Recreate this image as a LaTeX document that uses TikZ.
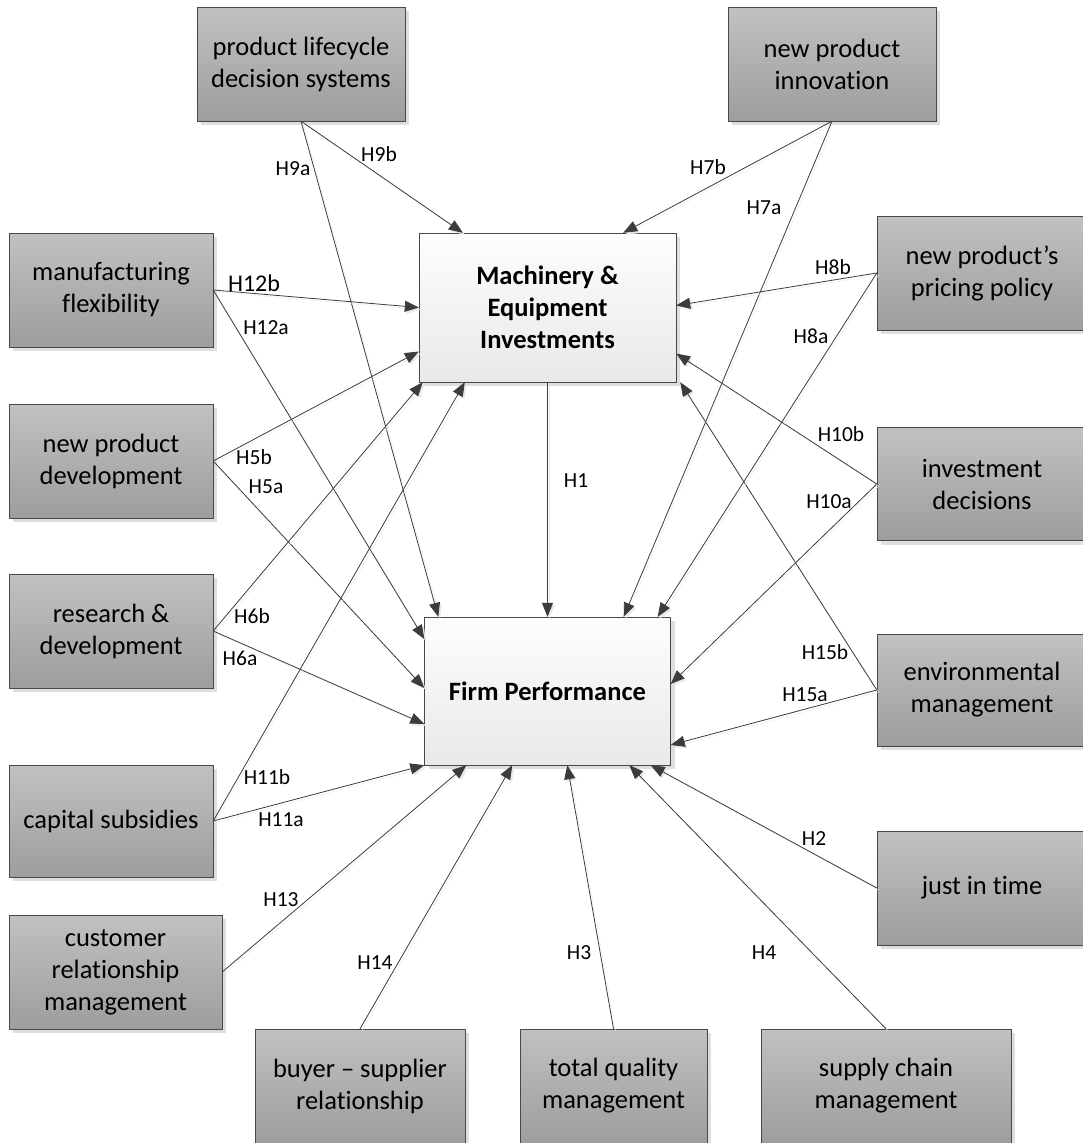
\documentclass[tikz,border=0pt]{standalone}
\usepackage{fontspec}
\setmainfont{Carlito}[Ligatures={TeX,NoCommon}]
\usetikzlibrary{calc}
\usetikzlibrary{arrows.meta}
\usetikzlibrary{shadows}

\definecolor{boxtop}{RGB}{193,193,193}
\definecolor{boxbot}{RGB}{157,157,157}
\definecolor{coretop}{RGB}{253,253,253}
\definecolor{corebot}{RGB}{233,233,233}
\definecolor{boxline}{RGB}{72,72,72}
\definecolor{arrline}{RGB}{60,60,60}

\tikzset{
  factor/.style={draw=boxline, top color=boxtop, bottom color=boxbot,
    minimum width=204pt, minimum height=114pt, inner sep=0pt, align=center,
    font=\fontsize{26.5}{32}\selectfont,
    drop shadow={shadow xshift=4pt, shadow yshift=-4pt, fill=black!13, opacity=1}},
  core/.style={factor, top color=coretop, bottom color=corebot, font=\fontsize{26.5}{32}\selectfont\bfseries},
  arr/.style={draw=arrline, line width=0.8pt, -{Triangle[length=14pt, width=11pt]},
    preaction={draw=black!9, transform canvas={shift={(2pt,-2pt)}}}},
  hyp/.style={inner sep=0pt, font=\fontsize{21.5}{24}\selectfont}
}

\begin{document}
\begin{tikzpicture}[x=1pt, y=-1pt]
      \useasboundingbox (0,0) rectangle (1083,1143);
      \node[core, minimum width=257pt, minimum height=149pt] (mei) at (547.5,307.5) {Machinery \&\\Equipment\\Investments};
      \node[core, minimum width=246pt, minimum height=148pt] (firm) at (547.5,691) {Firm Performance};

      \node[factor, minimum width=208pt] (plds) at (301,64) {product lifecycle\\decision systems};
      \node[factor, minimum width=208pt] (npi) at (832,64) {new product\\innovation};
      \node[factor] (mflex) at (111,290) {manufacturing\\flexibility};
      \node[factor, minimum width=210pt] (price) at (982,273) {new product’s\\pricing policy};
      \node[factor] (npd) at (111,461) {new product\\development};
      \node[factor, minimum width=210pt, minimum height=113pt] (invd) at (982,484) {investment\\decisions};
      \node[factor] (rnd) at (111,631) {research \&\\development};
      \node[factor, minimum width=210pt, minimum height=112pt] (envm) at (982,690) {environmental\\management};
      \node[factor, minimum height=112pt] (capsub) at (111,821) {capital subsidies};
      \node[factor, minimum width=210pt] (jit) at (982,888) {just in time};
      \node[factor, minimum width=213pt] (crm) at (115.5,972) {customer\\relationship\\management};
      \node[factor, minimum width=210pt] (bsr) at (360,1086) {buyer -- supplier\\relationship};
      \node[factor, minimum width=187pt] (tqm) at (613.5,1086) {total quality\\management};
      \node[factor, minimum width=250pt] (scm) at (886,1086) {supply chain\\management};

      \draw[arr] (mei.south) -- (firm.north);
      \draw[arr] (plds.south) -- ($(mei.north west)+(44,0)$);
      \draw[arr] (plds.south) -- ($(firm.north west)+(14,0)$);
      \draw[arr] (npi.south) -- ($(mei.north east)+(-53,0)$);
      \draw[arr] (npi.south) -- ($(firm.north east)+(-47,0)$);
      \draw[arr] (mflex.east) -- (mei.west);
      \draw[arr] (mflex.east) -- ($(firm.west)+(0,-52)$);
      \draw[arr] (npd.east) -- ($(mei.west)+(0,44)$);
      \draw[arr] (npd.east) -- ($(firm.west)+(0,-3)$);
      \draw[arr] (rnd.east) -- ($(mei.south west)+(4,0)$);
      \draw[arr] (rnd.east) -- ($(firm.west)+(0,33)$);
      \draw[arr] (capsub.east) -- ($(mei.south west)+(46,0)$);
      \draw[arr] (capsub.east) -- (firm.south west);
      \draw[arr] (crm.east) -- ($(firm.south west)+(42,0)$);
      \draw[arr] (bsr.north) -- ($(firm.south west)+(88,0)$);
      \draw[arr] (tqm.north) -- ($(firm.south west)+(143,0)$);
      \draw[arr] (scm.north) -- ($(firm.south west)+(205,0)$);
      \draw[arr] (jit.west) -- ($(firm.south east)+(-20,0)$);
      \draw[arr] (envm.west) -- ($(firm.east)+(0,54)$);
      \draw[arr] (envm.west) -- ($(mei.south east)+(4,0)$);
      \draw[arr] (invd.west) -- ($(firm.east)+(0,-7)$);
      \draw[arr] (invd.west) -- ($(mei.east)+(0,46)$);
      \draw[arr] (price.west) -- ($(mei.east)+(0,-2)$);
      \draw[arr] (price.west) -- ($(firm.north east)+(-13,0)$);

      \node[hyp] (h1) at (576,481) {H1};
      \node[hyp] (h2) at (814,839) {H2};
      \node[hyp] (h3) at (579,953) {H3};
      \node[hyp] (h4) at (764,953) {H4};
      \node[hyp] (h5a) at (266,487) {H5a};
      \node[hyp] (h5b) at (254,457) {H5b};
      \node[hyp] (h6a) at (240,658) {H6a};
      \node[hyp] (h6b) at (252,616) {H6b};
      \node[hyp] (h7a) at (764,208) {H7a};
      \node[hyp] (h7b) at (708,167) {H7b};
      \node[hyp] (h8a) at (811,336) {H8a};
      \node[hyp] (h8b) at (833,267) {H8b};
      \node[hyp] (h9a) at (293,169) {H9a};
      \node[hyp] (h9b) at (379,154) {H9b};
      \node[hyp] (h10a) at (829,502) {H10a};
      \node[hyp] (h10b) at (841,434) {H10b};
      \node[hyp] (h11a) at (281,820) {H11a};
      \node[hyp] (h11b) at (267,777) {H11b};
      \node[hyp, font=\fontsize{24}{26}\selectfont] (h12b) at (254,283) {H12b};
      \node[hyp] (h12a) at (266,328) {H12a};
      \node[hyp] (h13) at (281,900) {H13};
      \node[hyp] (h14) at (375,963) {H14};
      \node[hyp] (h15a) at (805,695) {H15a};
      \node[hyp] (h15b) at (825,652) {H15b};
    \end{tikzpicture}
\end{document}
